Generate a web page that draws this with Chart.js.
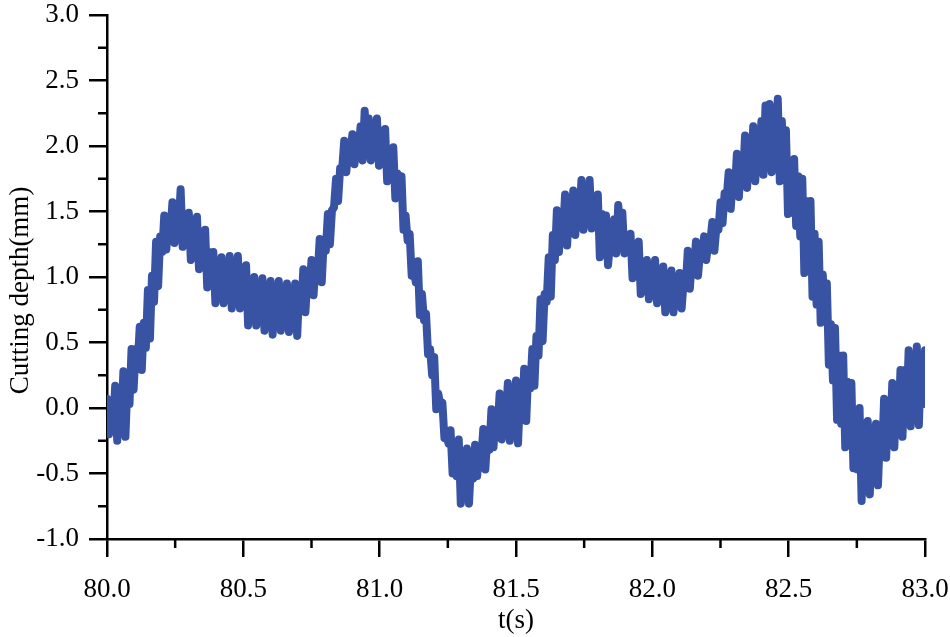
<!DOCTYPE html>
<html>
<head>
<meta charset="utf-8">
<title>Cutting depth</title>
<script src="https://cdn.jsdelivr.net/npm/chart.js@4.4.1/dist/chart.umd.min.js"></script>
<style>
  html, body { margin: 0; padding: 0; background: #fff; }
  #depthChart { display: block; }
</style>
</head>
<body>
<canvas id="depthChart" width="950" height="637"></canvas>
<script>
// time axis: samples from 80.0 s, every 0.0075 s
const startTime = 80.0;
const sampleStep = 0.0075;

// cutting depth (mm), one value per sample
const depth = [
   0.07, -0.20,  0.02, -0.14,  0.17, -0.25,  0.15, -0.16,  0.28, -0.22,
   0.19,  0.03,  0.45,  0.14,  0.45,  0.33,  0.62,  0.29,  0.65,  0.46,
   0.90,  0.53,  1.01,  0.81,  1.27,  0.93,  1.31,  1.19,  1.47,  1.21,
   1.42,  1.34,  1.57,  1.26,  1.53,  1.38,  1.67,  1.23,  1.45,  1.26,
   1.49,  1.13,  1.38,  1.20,  1.46,  1.06,  1.31,  1.09,  1.36,  0.92,
   1.19,  0.96,  1.19,  0.80,  1.05,  0.90,  1.15,  0.80,  1.05,  0.88,
   1.16,  0.76,  1.06,  0.86,  1.16,  0.76,  1.06,  0.86,  1.09,  0.63,
   0.92,  0.73,  1.00,  0.63,  0.90,  0.71,  0.99,  0.59,  0.87,  0.68,
   0.97,  0.56,  0.87,  0.65,  0.97,  0.59,  0.86,  0.69,  0.95,  0.58,
   0.85,  0.64,  0.95,  0.55,  0.91,  0.75,  1.06,  0.73,  0.99,  0.89,
   1.13,  0.86,  1.11,  1.01,  1.29,  0.96,  1.28,  1.20,  1.48,  1.25,
   1.51,  1.53,  1.75,  1.58,  1.83,  1.82,  2.04,  1.80,  1.97,  1.94,
   2.09,  1.86,  2.02,  1.97,  2.15,  1.89,  2.27,  2.00,  2.21,  1.89,
   2.09,  1.98,  2.21,  1.85,  2.07,  1.89,  2.13,  1.73,  1.97,  1.78,
   1.99,  1.60,  1.79,  1.63,  1.77,  1.36,  1.47,  1.28,  1.33,  1.01,
   1.05,  0.96,  1.12,  0.71,  0.87,  0.67,  0.72,  0.41,  0.45,  0.25,
   0.39, -0.01,  0.11,  0.02,  0.04, -0.23, -0.21, -0.27, -0.17, -0.50,
  -0.31, -0.52, -0.24, -0.73, -0.38, -0.64, -0.31, -0.73, -0.43, -0.54,
  -0.28, -0.52, -0.32, -0.39, -0.16, -0.47, -0.20, -0.32, -0.01, -0.30,
  -0.03, -0.16,  0.11, -0.24,  0.05, -0.12,  0.19, -0.25,  0.10, -0.18,
   0.21, -0.27,  0.12, -0.09,  0.30, -0.10,  0.29,  0.15,  0.45,  0.17,
   0.55,  0.40,  0.83,  0.51,  0.87,  0.81,  1.15,  0.85,  1.32,  1.13,
   1.51,  1.19,  1.48,  1.33,  1.63,  1.24,  1.57,  1.38,  1.66,  1.32,
   1.58,  1.42,  1.74,  1.36,  1.65,  1.52,  1.74,  1.37,  1.57,  1.39,
   1.63,  1.15,  1.48,  1.20,  1.47,  1.09,  1.26,  1.22,  1.44,  1.18,
   1.55,  1.34,  1.49,  1.18,  1.29,  1.20,  1.33,  0.99,  1.22,  1.01,
   1.27,  0.87,  1.08,  0.93,  1.13,  0.83,  1.04,  0.94,  1.13,  0.80,
   1.00,  0.85,  1.08,  0.73,  0.97,  0.83,  1.05,  0.73,  0.94,  0.85,
   1.03,  0.76,  0.97,  0.93,  1.20,  0.91,  1.13,  1.06,  1.27,  1.01,
   1.19,  1.18,  1.31,  1.13,  1.25,  1.27,  1.42,  1.20,  1.38,  1.36,
   1.57,  1.41,  1.64,  1.60,  1.80,  1.52,  1.76,  1.65,  1.94,  1.61,
   1.92,  1.75,  2.08,  1.68,  2.04,  1.81,  2.15,  1.73,  2.06,  1.85,
   2.19,  1.78,  2.31,  1.93,  2.32,  1.80,  2.24,  1.88,  2.36,  1.73,
   2.19,  1.75,  2.12,  1.48,  1.82,  1.49,  1.90,  1.39,  1.77,  1.31,
   1.75,  1.03,  1.58,  1.08,  1.58,  0.85,  1.33,  0.79,  1.27,  0.65,
   1.02,  0.73,  0.95,  0.33,  0.64,  0.21,  0.61, -0.09,  0.40, -0.12,
   0.40, -0.30,  0.20, -0.28,  0.19, -0.46, -0.02, -0.47,  0.00, -0.71,
  -0.17, -0.58, -0.10, -0.66, -0.22, -0.53, -0.12, -0.59, -0.18, -0.37,
   0.07, -0.38,  0.03, -0.23,  0.19, -0.30,  0.14, -0.17,  0.29, -0.22,
   0.29, -0.04,  0.44, -0.14,  0.36, -0.06,  0.47, -0.13,  0.35,  0.03,
   0.44
];

const times = depth.map((_, i) => +(startTime + i * sampleStep).toFixed(4));

// axis ticks
const xTicks = [80.0, 80.5, 81.0, 81.5, 82.0, 82.5, 83.0];
const yTicks = [-1.0, -0.5, 0.0, 0.5, 1.0, 1.5, 2.0, 2.5, 3.0];

const points = times.map((t, i) => ({ x: t, y: depth[i] }));

const axisFont = { family: "'Liberation Serif', 'Times New Roman', serif", size: 27 };

// short ticks half way between the labelled ones
const minorTicks = {
  id: 'minorTicks',
  afterDraw(chart) {
    const ctx = chart.ctx;
    const xs = chart.scales.x, ys = chart.scales.y;
    ctx.save();
    ctx.strokeStyle = '#000';
    ctx.lineWidth = 2.5;
    ctx.beginPath();
    for (let i = 0; i < xTicks.length - 1; i++) {
      const px = xs.getPixelForValue((xTicks[i] + xTicks[i + 1]) / 2);
      ctx.moveTo(px, xs.top);
      ctx.lineTo(px, xs.top + 9);
    }
    for (let i = 0; i < yTicks.length - 1; i++) {
      const py = ys.getPixelForValue((yTicks[i] + yTicks[i + 1]) / 2);
      ctx.moveTo(ys.right, py);
      ctx.lineTo(ys.right - 9, py);
    }
    ctx.stroke();
    ctx.restore();
  }
};

new Chart(document.getElementById('depthChart'), {
  type: 'line',
  data: {
    datasets: [{
      data: points,
      borderColor: '#3953a4',
      borderWidth: 8,
      borderJoinStyle: 'round',
      borderCapStyle: 'round',
      pointRadius: 0,
      tension: 0,
      fill: false
    }]
  },
  options: {
    responsive: false,
    animation: false,
    devicePixelRatio: 1,
    layout: { padding: { top: 15, right: 25, left: 0, bottom: 0 } },
    plugins: { legend: { display: false }, tooltip: { enabled: false } },
    scales: {
      x: {
        type: 'linear',
        min: 80,
        max: 83,
        afterFit(scale) {
          scale.height = 98;
          scale.paddingLeft = 0;
          scale.paddingRight = 0;
        },
        afterBuildTicks(scale) { scale.ticks = xTicks.map(v => ({ value: v })); },
        border: { display: true, color: '#000', width: 2.5 },
        grid: { drawOnChartArea: false, drawTicks: true, tickLength: 18, color: '#000', lineWidth: 2.5 },
        ticks: { color: '#000', font: axisFont, padding: 17, maxRotation: 0, callback: v => v.toFixed(1) },
        title: { display: true, text: 't(s)', color: '#000', font: axisFont, padding: { top: 0, bottom: 0 } }
      },
      y: {
        min: -1,
        max: 3,
        afterFit(scale) {
          scale.width = 107;
          scale.paddingTop = 0;
          scale.paddingBottom = 0;
        },
        afterBuildTicks(scale) { scale.ticks = yTicks.map(v => ({ value: v })); },
        border: { display: true, color: '#000', width: 2.5 },
        grid: { drawOnChartArea: false, drawTicks: true, tickLength: 18, color: '#000', lineWidth: 2.5 },
        ticks: { color: '#000', font: axisFont, padding: 10, callback: v => v.toFixed(1) },
        title: { display: true, text: 'Cutting depth(mm)    ', color: '#000', font: axisFont, padding: { top: 5, bottom: 0 } }
      }
    }
  },
  plugins: [minorTicks]
});
</script>
</body>
</html>
